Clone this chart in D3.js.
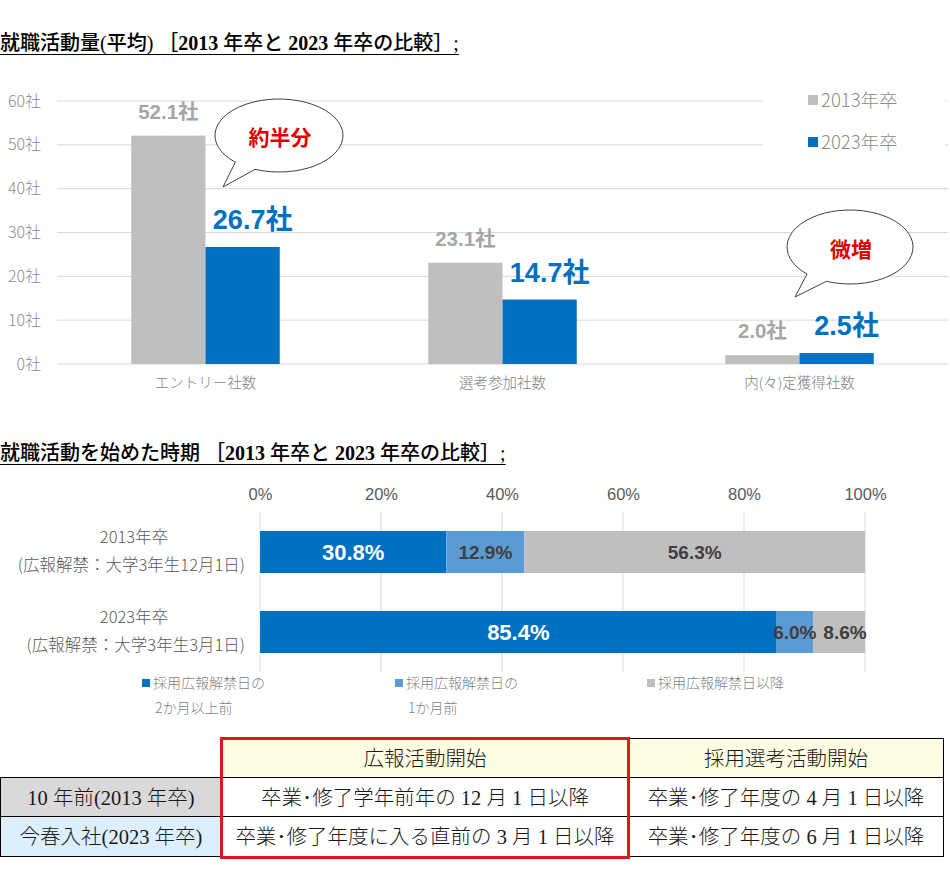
<!DOCTYPE html>
<html><head><meta charset="utf-8">
<script src="https://cdn.jsdelivr.net/npm/d3@7"></script>
<style>body{margin:0;background:#fff}svg{display:block}</style>
</head><body><svg id="c" width="950" height="883"></svg>
<script>
// ---------- data ----------
const titles = ['就職活動量(平均) ［2013 年卒と 2023 年卒の比較］;', '就職活動を始めた時期 ［2013 年卒と 2023 年卒の比較］;'];

const categories = ['エントリー社数', '選考参加社数', '内(々)定獲得社数'];
const seriesNames = ['2013年卒', '2023年卒'];
const values2013 = [52.1, 23.1, 2.0];
const values2023 = [26.7, 14.7, 2.5];
const yTickValues = [0, 10, 20, 30, 40, 50, 60];
const bubbleTexts = ['約半分', '微増'];

const rowYears = ['2013年卒', '2023年卒'];
const rowNotes = ['(広報解禁：大学3年生12月1日)', '(広報解禁：大学3年生3月1日)'];
const segKeys = ['twoMonths', 'oneMonth', 'after'];
const segTwoMonths = [30.8, 85.4];
const segOneMonth = [12.9, 6.0];
const segAfter = [56.3, 8.6];
const pctTicks = [0, 20, 40, 60, 80, 100];
const legendLines = [['採用広報解禁日の', '2か月以上前'], ['採用広報解禁日の', '1か月前'], ['採用広報解禁日以降']];

const tableHeader = ['', '広報活動開始', '採用選考活動開始'];
const tableRows = [
  ['10 年前(2013 年卒)', '卒業･修了学年前年の 12 月 1 日以降', '卒業･修了年度の 4 月 1 日以降'],
  ['今春入社(2023 年卒)', '卒業･修了年度に入る直前の 3 月 1 日以降', '卒業･修了年度の 6 月 1 日以降']
];

// ---------- setup ----------
const svg = d3.select('#c');
const SANS = '"Noto Sans CJK JP","Noto Sans",sans-serif';
const SERIF = '"Liberation Serif","Noto Sans CJK JP",serif';
const LAT = '"Liberation Sans","Noto Sans CJK JP",sans-serif';
const NARROW = '"Liberation Sans Narrow","Liberation Sans","Noto Sans CJK JP",sans-serif';

function title(txt, y) {
  const t = svg.append('text').attr('x', 0).attr('y', y).attr('font-size', 20).attr('fill', '#000');
  txt.split(/(\d+)/).forEach(part => {
    if (!part) return;
    const isNum = /^\d+$/.test(part);
    t.append('tspan').text(part)
      .attr('font-family', isNum ? '"Liberation Serif",serif' : SERIF)
      .attr('font-weight', isNum ? 'bold' : 500);
  });
  const bb = t.node().getBBox();
  svg.append('line').attr('x1', 0).attr('x2', bb.x + bb.width).attr('y1', y + 4.5).attr('y2', y + 4.5)
    .attr('stroke', '#000').attr('stroke-width', 1.2);
}
title(titles[0], 50);
title(titles[1], 460);

// ---------- chart 1 ----------
const x0 = d3.scaleBand().domain(categories).range([57, 948]);
const x1 = d3.scaleBand().domain(seriesNames).range([x0.bandwidth() * 0.25, x0.bandwidth() * 0.75]);
const y = d3.scaleLinear().domain([0, 60]).range([364, 101]);
const color = d3.scaleOrdinal().domain(seriesNames).range(['#bfbfbf', '#0070c0']);

const g1 = svg.append('g');
g1.selectAll('line.grid').data(yTickValues).join('line').attr('class', 'grid')
  .attr('x1', 57).attr('x2', 948).attr('y1', d => y(d)).attr('y2', d => y(d))
  .attr('stroke', '#d9d9d9').attr('stroke-width', 1);

// legend background (covers gridlines)
g1.append('rect').attr('x', 763).attr('y', 84).attr('width', 182).attr('height', 78).attr('fill', '#fff');

const yAxis = g1.append('g').attr('transform', 'translate(57,0)')
  .call(d3.axisLeft(y).tickValues(yTickValues).tickSize(0).tickPadding(16).tickFormat(d => d + '社'));
yAxis.select('.domain').remove();
yAxis.selectAll('text').attr('font-family', SANS).attr('font-size', 16).attr('fill', '#8c8c8c').attr('font-weight', 300);

const xAxis = g1.append('g').attr('transform', 'translate(0,364)')
  .call(d3.axisBottom(x0).tickSize(0).tickPadding(14));
xAxis.select('.domain').remove();
xAxis.selectAll('text').attr('font-family', SANS).attr('font-size', 14.5).attr('fill', '#7f7f7f').attr('font-weight', 300);

const groups = categories.map((c, i) => ({ c, vals: [{ s: seriesNames[0], v: values2013[i] }, { s: seriesNames[1], v: values2023[i] }] }));
const gg = g1.selectAll('g.grp').data(groups).join('g').attr('class', 'grp')
  .attr('transform', d => `translate(${x0(d.c)},0)`);
gg.selectAll('rect').data(d => d.vals).join('rect')
  .attr('x', d => x1(d.s)).attr('width', x1.bandwidth())
  .attr('y', d => y(d.v)).attr('height', d => y(0) - y(d.v)).attr('fill', d => color(d.s));
gg.selectAll('text.val').data(d => d.vals).join('text').attr('class', 'val')
  .attr('x', d => x1(d.s) + x1.bandwidth() / 2 + (d.s === seriesNames[1] ? 10 : 0))
  .attr('y', d => y(d.v) - (d.s === seriesNames[1] ? 18 : 17))
  .attr('text-anchor', 'middle').attr('font-family', LAT).attr('font-weight', 'bold')
  .attr('font-size', d => d.s === seriesNames[1] ? 27 : 20.5)
  .attr('fill', d => d.s === seriesNames[1] ? '#0070c0' : '#a6a6a6')
  .text(d => d.v.toFixed(1) + '社');

// legend
const lg = g1.selectAll('g.lg').data(seriesNames).join('g').attr('class', 'lg')
  .attr('transform', (d, i) => `translate(808,${100 + i * 42})`);
lg.append('rect').attr('x', 0).attr('y', -5).attr('width', 10).attr('height', 10).attr('fill', d => color(d));
lg.append('text').attr('x', 13).attr('y', 0).attr('dy', '0.36em').attr('font-family', SANS).attr('font-size', 18.5)
  .attr('font-weight', 300).attr('fill', '#8c8c8c').text(d => d);

// speech bubbles
function bubble(cx, cy, rx, ry, aStart, aEnd, tip, txt) {
  const r = a => a * Math.PI / 180;
  const p = a => [cx + rx * Math.cos(r(a)), cy + ry * Math.sin(r(a))];
  const [sx, sy] = p(aStart), [ex, ey] = p(aEnd);
  const path = `M${sx},${sy} A${rx},${ry} 0 1 1 ${ex},${ey} L${tip[0]},${tip[1]} Z`;
  g1.append('path').attr('d', path).attr('fill', '#fff').attr('stroke', '#404040').attr('stroke-width', 1);
  g1.append('text').attr('x', cx + 1).attr('y', cy + 2).attr('dy', '0.36em').attr('text-anchor', 'middle')
    .attr('font-family', SANS).attr('font-weight', 'bold').attr('font-size', 21).attr('fill', '#e00000').text(txt);
}
bubble(279, 135.5, 64, 36.5, 133, 112, [223, 187], bubbleTexts[0]);
bubble(850, 247, 63, 37, 133, 112, [795, 297], bubbleTexts[1]);

// ---------- chart 2 ----------
const xp = d3.scaleLinear().domain([0, 100]).range([260, 865]);
const yr = d3.scaleBand().domain(rowYears).range([512, 672]).paddingInner(0.475).paddingOuter(0.2375);
const segColor = d3.scaleOrdinal().domain(segKeys).range(['#0070c0', '#5b9bd5', '#bfbfbf']);
const rows = rowYears.map((r, i) => ({ row: r, twoMonths: segTwoMonths[i], oneMonth: segOneMonth[i], after: segAfter[i] }));
const stacked = d3.stack().keys(segKeys)(rows);

const g2 = svg.append('g');
g2.selectAll('line.vg').data(pctTicks).join('line').attr('class', 'vg')
  .attr('x1', d => xp(d)).attr('x2', d => xp(d)).attr('y1', 512).attr('y2', 672)
  .attr('stroke', '#d9d9d9').attr('stroke-width', 1);
const pAxis = g2.append('g').attr('transform', 'translate(0,500)')
  .call(d3.axisTop(xp).tickValues(pctTicks).tickSize(0).tickPadding(0).tickFormat(d => d + '%'));
pAxis.select('.domain').remove();
pAxis.selectAll('text').attr('font-family', NARROW).attr('font-size', 16.5).attr('fill', '#595959');

g2.selectAll('g.layer').data(stacked).join('g').attr('class', 'layer').attr('fill', d => segColor(d.key))
  .selectAll('rect').data(d => d).join('rect')
  .attr('x', d => xp(d[0])).attr('width', d => xp(d[1]) - xp(d[0]))
  .attr('y', d => yr(d.data.row)).attr('height', yr.bandwidth());

stacked.forEach(layer => {
  g2.selectAll(null).data(layer).join('text')
    .attr('x', d => (xp(d[0]) + xp(d[1])) / 2 + (layer.key === 'after' && (d[1] - d[0]) < 15 ? 6 : 0))
    .attr('y', d => yr(d.data.row) + yr.bandwidth() / 2).attr('dy', '0.36em')
    .attr('text-anchor', 'middle').attr('font-family', NARROW).attr('font-weight', 'bold')
    .attr('font-size', layer.key === 'twoMonths' ? 22 : 19)
    .attr('fill', layer.key === 'twoMonths' ? '#fff' : '#404040')
    .text(d => (d[1] - d[0]).toFixed(1) + '%');
});

// row labels
g2.selectAll('text.ry').data(rowYears).join('text').attr('class', 'ry')
  .attr('x', 134).attr('y', d => yr(d) + 6).attr('dy', '0.36em').attr('text-anchor', 'middle')
  .attr('font-family', SANS).attr('font-size', 16.5).attr('font-weight', 300).attr('fill', '#595959').text(d => d);
g2.selectAll('text.rn').data(rowNotes).join('text').attr('class', 'rn')
  .attr('x', 245).attr('y', (d, i) => yr(rowYears[i]) + 34).attr('dy', '0.36em').attr('text-anchor', 'end')
  .attr('font-family', SANS).attr('font-size', 16.5).attr('font-weight', 300).attr('fill', '#595959').text(d => d);

// bottom legend
const lg2 = g2.selectAll('g.lg2').data(segKeys).join('g').attr('class', 'lg2')
  .attr('transform', (d, i) => `translate(${[142, 395, 647][i]},683)`);
lg2.append('rect').attr('x', 0).attr('y', -4).attr('width', 8).attr('height', 8).attr('fill', d => segColor(d));
lg2.each(function (d, i) {
  legendLines[i].forEach((ln, j) => {
    d3.select(this).append('text').attr('x', j === 0 ? 11 : 13).attr('y', j * 25).attr('dy', '0.36em')
      .attr('font-family', SANS).attr('font-size', 14).attr('font-weight', 300).attr('fill', '#7f7f7f').text(ln);
  });
});

// ---------- table ----------
const colX = [0, 221, 628, 943];
const rowY = [738, 777, 816, 856];
const gt = svg.append('g');
const cells = [];
[tableHeader, ...tableRows].forEach((r, ri) => r.forEach((txt, ci) => cells.push({ ri, ci, txt })));
const cellFill = c => c.ri === 0 ? (c.ci === 0 ? 'none' : '#fefde4') : (c.ci === 0 ? (c.ri === 1 ? '#d9d9d9' : '#ddeefc') : '#fff');
gt.selectAll('rect.cell').data(cells.filter(c => !(c.ri === 0 && c.ci === 0))).join('rect').attr('class', 'cell')
  .attr('x', c => colX[c.ci] + 0.5).attr('y', c => rowY[c.ri] + 0.5)
  .attr('width', c => colX[c.ci + 1] - colX[c.ci]).attr('height', c => rowY[c.ri + 1] - rowY[c.ri])
  .attr('fill', cellFill).attr('stroke', '#000').attr('stroke-width', 1);
gt.selectAll('text.cell').data(cells.filter(c => c.txt)).join('text').attr('class', 'cell')
  .attr('x', c => (colX[c.ci] + colX[c.ci + 1]) / 2 + 0.5).attr('y', c => (rowY[c.ri] + rowY[c.ri + 1]) / 2 + 1)
  .attr('dy', '0.36em').attr('text-anchor', 'middle').attr('font-family', SERIF).attr('font-size', 20.5)
  .attr('font-weight', 300).attr('fill', '#1a1a1a').text(c => c.txt);
gt.append('rect').attr('x', colX[1] + 0.5).attr('y', rowY[0] + 0.5).attr('width', colX[2] - colX[1])
  .attr('height', rowY[3] - rowY[0] + 1).attr('fill', 'none').attr('stroke', '#d81b1b').attr('stroke-width', 3);
</script>
</body></html>
